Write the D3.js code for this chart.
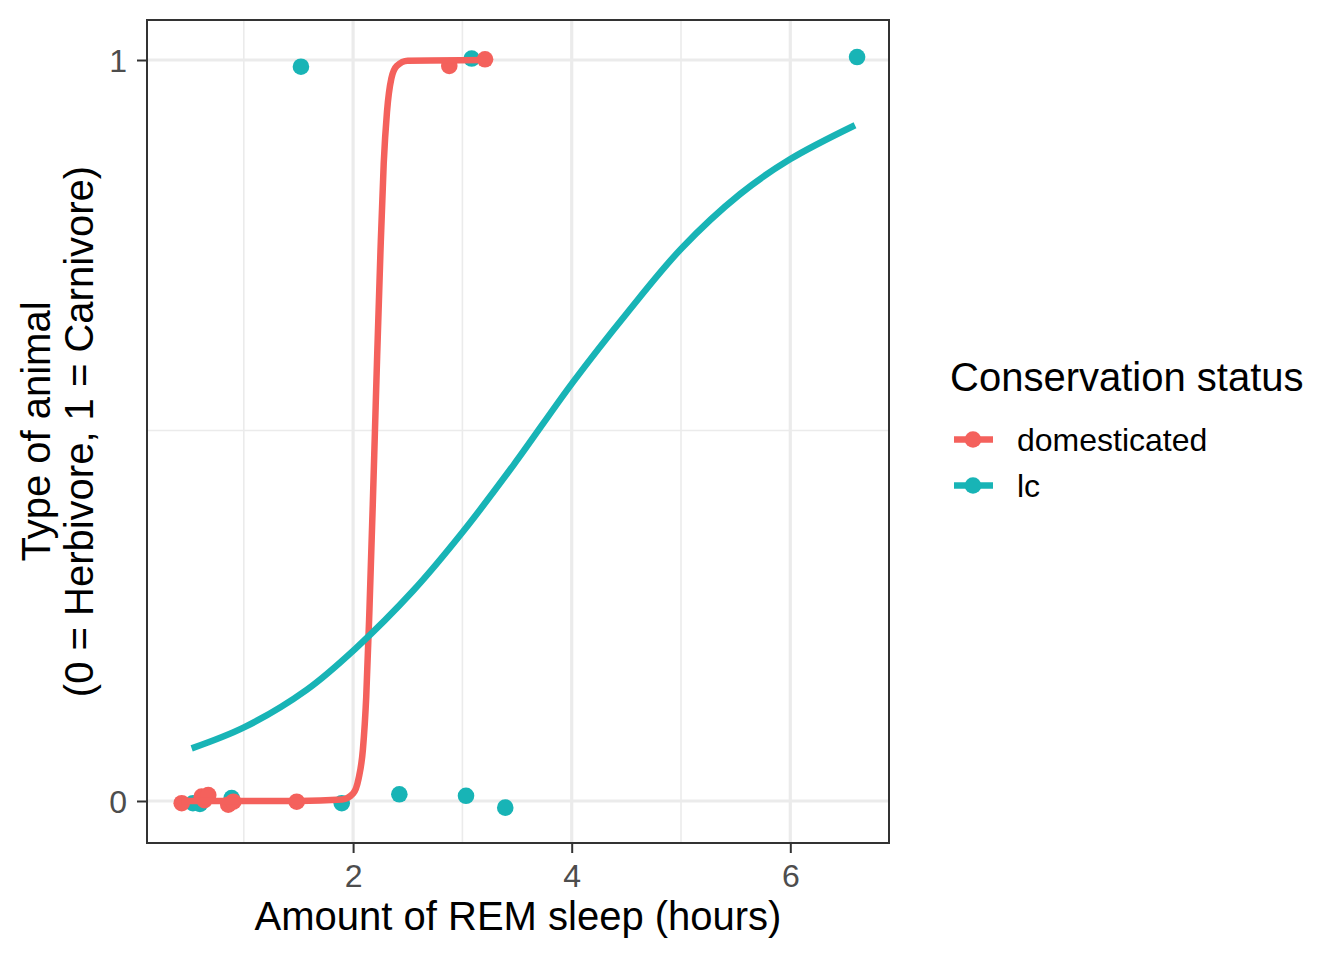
<!DOCTYPE html>
<html>
<head>
    <meta charset="utf-8">
    <title>REM sleep vs type of animal</title>
    <style>
        body { margin: 0; background: #fff; }
        text { font-family: "Liberation Sans", Arial, Helvetica, sans-serif; }
        .tick text { fill: #4D4D4D; font-size: 32px; }
        .axis-title { font-size: 40px; fill: #000; }
        .legend-title { font-size: 40px; fill: #000; }
        .legend-label { font-size: 32px; fill: #000; }
    </style>
</head>
<body>
    <svg width="1344" height="960"></svg>
    <script src="https://d3js.org/d3.v7.min.js"></script>
    <script>
    // points (jittered)
    var domX = [0.432, 0.615, 0.640, 0.675, 0.858, 0.904, 1.484, 2.880, 3.207];
    var domY = [-0.003, 0.006, 0.001, 0.008, -0.005, -0.001, -0.001, 0.992, 1.001];
    var lcX = [0.535, 0.599, 0.889, 1.523, 1.896, 2.423, 3.033, 3.085, 3.392, 6.611];
    var lcY = [-0.003, -0.004, 0.004, 0.991, -0.003, 0.009, 0.007, 1.002, -0.009, 1.004];

    // fitted curves
    var domCurveX = [0.432, 1.0, 1.5, 1.9, 2.0, 2.05, 2.09, 2.12, 2.15, 2.18, 2.20, 2.22, 2.25, 2.28, 2.31, 2.35, 2.40, 2.50, 3.207];
    var domCurveY = [0, 0, 0, 0.002, 0.01, 0.03, 0.07, 0.14, 0.26, 0.40, 0.50, 0.60, 0.74, 0.86, 0.93, 0.975, 0.992, 0.999, 1];
    var lcCurveX = [0.523, 1.011, 1.575, 2.017, 2.551, 3.008, 3.466, 4.015, 4.503, 5.006, 5.540, 5.997, 6.592];
    var lcCurveY = [0.071, 0.100, 0.150, 0.205, 0.284, 0.364, 0.453, 0.566, 0.658, 0.746, 0.819, 0.866, 0.912];

    var xTicks = [2, 4, 6], xMinor = [1, 3, 5];
    var yTicks = [0, 1], yMinor = [0.5];
    var groups = ["domesticated", "lc"];
    var colors = ["#F4615C", "#18B4B6"];

    var svg = d3.select("svg");
    var pLeft = 147, pRight = 889, pTop = 20, pBottom = 843;

    var x = d3.scaleLinear().domain([0.1144, 6.903]).range([pLeft, pRight]);
    var y = d3.scaleLinear().domain([-0.0567, 1.054]).range([pBottom, pTop]);
    var color = d3.scaleOrdinal().domain(groups).range(colors);

    // panel grid
    var grid = svg.append("g");
    grid.selectAll(".vminor").data(xMinor).enter().append("line")
        .attr("x1", x).attr("x2", x).attr("y1", pTop).attr("y2", pBottom)
        .attr("stroke", "#EBEBEB").attr("stroke-width", 1.6);
    grid.selectAll(".hminor").data(yMinor).enter().append("line")
        .attr("y1", y).attr("y2", y).attr("x1", pLeft).attr("x2", pRight)
        .attr("stroke", "#EBEBEB").attr("stroke-width", 1.6);
    grid.selectAll(".vmajor").data(xTicks).enter().append("line")
        .attr("x1", x).attr("x2", x).attr("y1", pTop).attr("y2", pBottom)
        .attr("stroke", "#EBEBEB").attr("stroke-width", 3.2);
    grid.selectAll(".hmajor").data(yTicks).enter().append("line")
        .attr("y1", y).attr("y2", y).attr("x1", pLeft).attr("x2", pRight)
        .attr("stroke", "#EBEBEB").attr("stroke-width", 3.2);

    // points
    function drawPoints(xs, ys, group) {
      svg.append("g").selectAll("circle")
        .data(xs.map(function(d, i) { return [d, ys[i]]; }))
        .enter().append("circle")
          .attr("cx", function(d) { return x(d[0]); })
          .attr("cy", function(d) { return y(d[1]); })
          .attr("r", 8.3)
          .attr("fill", color(group));
    }
    drawPoints(lcX, lcY, "lc");
    drawPoints(domX, domY, "domesticated");

    // smooth lines
    function drawCurve(xs, ys, group, curve) {
      var line = d3.line()
          .x(function(d) { return x(d[0]); })
          .y(function(d) { return y(d[1]); })
          .curve(curve);
      svg.append("path")
        .datum(xs.map(function(d, i) { return [d, ys[i]]; }))
        .attr("d", line)
        .attr("fill", "none")
        .attr("stroke", color(group))
        .attr("stroke-width", 6.5)
        .attr("stroke-linejoin", "round");
    }
    drawCurve(domCurveX, domCurveY, "domesticated", d3.curveMonotoneX);
    drawCurve(lcCurveX, lcCurveY, "lc", d3.curveCatmullRom.alpha(0.5));

    // panel border
    svg.append("rect")
        .attr("x", pLeft).attr("y", pTop)
        .attr("width", pRight - pLeft).attr("height", pBottom - pTop)
        .attr("fill", "none").attr("stroke", "#333333").attr("stroke-width", 2);

    // axes
    var xAxis = svg.append("g")
        .attr("transform", "translate(0," + pBottom + ")")
        .call(d3.axisBottom(x).tickValues(xTicks).tickSize(10).tickPadding(10).tickFormat(d3.format("d")));
    var yAxis = svg.append("g")
        .attr("transform", "translate(" + pLeft + ",0)")
        .call(d3.axisLeft(y).tickValues(yTicks).tickSize(10).tickPadding(10).tickFormat(d3.format("d")));
    [xAxis, yAxis].forEach(function(a) {
      a.select(".domain").remove();
      a.selectAll(".tick line").attr("stroke", "#333333").attr("stroke-width", 2);
      a.selectAll(".tick text").attr("font-family", null).attr("font-size", null);
    });
    xAxis.selectAll(".tick text").attr("dy", "0.76em");
    yAxis.selectAll(".tick text").attr("dy", "0.36em");

    // axis titles
    svg.append("text").attr("class", "axis-title")
        .attr("x", (pLeft + pRight) / 2).attr("y", 930)
        .attr("text-anchor", "middle")
        .text("Amount of REM sleep (hours)");
    var yt = svg.append("text").attr("class", "axis-title")
        .attr("transform", "translate(50," + ((pTop + pBottom) / 2) + ") rotate(-90)")
        .attr("text-anchor", "middle");
    yt.append("tspan").attr("x", 0).attr("y", 0).text("Type of animal");
    yt.append("tspan").attr("x", 0).attr("y", 43).text("(0 = Herbivore, 1 = Carnivore)");

    // legend
    var legend = svg.append("g");
    legend.append("text").attr("class", "legend-title")
        .attr("x", 950).attr("y", 391)
        .text("Conservation status");
    var keys = legend.selectAll(".key").data(groups).enter().append("g")
        .attr("transform", function(d, i) { return "translate(0," + (439.5 + i * 46) + ")"; });
    keys.append("line")
        .attr("x1", 954).attr("x2", 993).attr("y1", 0).attr("y2", 0)
        .attr("stroke", function(d) { return color(d); })
        .attr("stroke-width", 6.5);
    keys.append("circle")
        .attr("cx", 973).attr("cy", 0).attr("r", 8.3)
        .attr("fill", function(d) { return color(d); });
    keys.append("text").attr("class", "legend-label")
        .attr("x", 1017).attr("y", 0).attr("dy", "0.36em")
        .text(function(d) { return d; });
    </script>
</body>
</html>
